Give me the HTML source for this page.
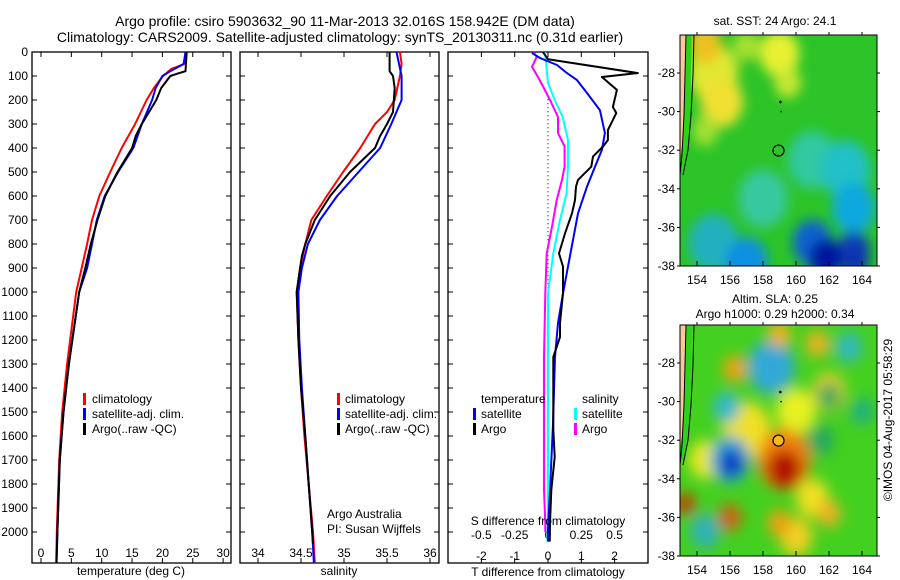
<!DOCTYPE html>
<html><head><meta charset="utf-8"><style>
html,body{margin:0;padding:0;background:#fff;}
svg{display:block;font-family:"Liberation Sans",sans-serif;}
text{font-size:12px;fill:#000;}
</style></head><body>
<svg id="fig" width="900" height="580" viewBox="0 0 900 580" xmlns="http://www.w3.org/2000/svg">
<defs>
<filter id="blurA" x="-50%" y="-50%" width="200%" height="200%"><feGaussianBlur stdDeviation="7"/></filter>
<filter id="blurB" x="-50%" y="-50%" width="200%" height="200%"><feGaussianBlur stdDeviation="6"/></filter>
<clipPath id="clipMap1"><rect x="680" y="35" width="197" height="231"/></clipPath>
<clipPath id="clipMap2"><rect x="680" y="325" width="197" height="231"/></clipPath>
</defs>
<text x="345" y="26" text-anchor="middle" style="font-size:14px">Argo profile: csiro 5903632_90 11-Mar-2013 32.016S 158.942E (DM data)</text>
<text x="340" y="42" text-anchor="middle" style="font-size:14px">Climatology: CARS2009. Satellite-adjusted climatology: synTS_20130311.nc (0.31d earlier)</text>
<g id="plots"></g>
</svg>
<script>
// ---------- profile data ----------
const tClimDepth=[0,50,70,100,150,200,300,400,500,600,700,800,900,1000,1300,1500,1700,2000,2130];
const tClimVal=[24.0,23.6,21.5,20.1,18.6,17.4,15.5,13.3,11.4,9.6,8.4,7.6,6.7,5.8,4.3,3.5,3.0,2.6,2.5];
const tSatDepth=[0,50,80,100,150,200,300,400,500,600,700,800,900,1000,1300,1500,1700,2000,2130];
const tSatVal=[23.8,23.5,21.3,20.0,18.9,18.3,16.6,15.2,12.7,10.5,9.2,8.4,7.6,6.3,4.6,3.7,3.1,2.7,2.55];
const tArgoDepth=[0,80,90,100,150,200,300,350,400,500,600,700,800,900,1000,1300,1500,1700,2000,2130];
const tArgoVal=[24.0,23.8,22.5,21.3,19.8,19.0,16.6,15.6,15.0,12.6,10.6,9.3,8.2,7.3,6.3,4.6,3.7,3.1,2.7,2.55];

const sClimDepth=[0,50,100,200,250,300,400,500,600,700,800,900,1000,1200,1400,1600,1800,2000,2130];
const sClimVal=[35.65,35.67,35.65,35.59,35.5,35.36,35.19,34.99,34.8,34.62,34.55,34.49,34.45,34.47,34.50,34.54,34.59,34.64,34.66];
const sSatDepth=[0,100,200,300,400,500,600,700,800,900,1000,1200,1400,1600,1800,2000,2130];
const sSatVal=[35.61,35.67,35.67,35.55,35.42,35.17,34.92,34.72,34.58,34.51,34.47,34.48,34.51,34.55,34.59,34.63,34.65];
const sArgoDepth=[0,80,100,150,250,300,350,400,500,600,700,800,850,900,1000,1200,1400,1600,1800,2000,2050];
const sArgoVal=[35.53,35.53,35.57,35.59,35.57,35.5,35.42,35.36,35.07,34.84,34.66,34.55,34.51,34.49,34.45,34.47,34.5,34.55,34.59,34.63,34.64];

const dTSatDepth=[4,25,54,88,117,171,242,338,408,478,561,672,783,894,1006,1129,1271,1550,1825,1992,2040];
const dTSatVal=[-0.48,-0.24,0.27,0.57,0.87,1.17,1.56,1.71,1.62,1.41,1.17,0.9,0.75,0.6,0.45,0.3,0.21,0.15,0.06,0.0,0.0];
const dTArgoDepth=[0,20,30,88,104,158,229,254,283,325,367,394,436,478,533,561,617,672,756,839,894,1006,1129,1188,1271,1408,1575,1629,1688,1825,1963,2040];
const dTArgoVal=[-0.15,-0.05,0.0,2.7,1.62,2.07,1.95,2.05,1.95,1.8,1.8,1.65,1.35,1.3,0.9,0.84,0.81,0.72,0.51,0.33,0.45,0.45,0.36,0.36,0.16,0.16,0.16,0.18,0.2,0.1,0.06,0.05];
const dSSatDepth=[0,40,129,200,271,367,478,589,700,839,1006,1300,1600,1900,2040];
const dSSatVal=[-0.025,-0.015,0.0,0.05,0.11,0.15,0.15,0.14,0.09,0.04,0.0,0.0,0.0,0.0,-0.005];
const dSArgoDepth=[0,20,62,104,146,200,271,338,394,478,533,617,728,839,1006,1271,1550,1825,1960,2000];
const dSArgoVal=[-0.11,-0.085,-0.12,-0.075,-0.035,0.015,0.075,0.075,0.125,0.125,0.105,0.065,0.03,-0.01,-0.02,-0.03,-0.03,-0.03,-0.02,-0.02];

const depthTicks=[0,100,200,300,400,500,600,700,800,900,1000,1100,1200,1300,1400,1500,1600,1700,1800,1900,2000];
const tTicks=[0,5,10,15,20,25,30];
const sTicks=[34,34.5,35,35.5,36];
const dTTicks=[-2,-1,0,1,2];
const dSTicks=[-0.5,-0.25,0,0.25,0.5];
const dSTickLabels=["-0.5","-0.25","0","0.25","0.5"];
const lonTicks=[154,156,158,160,162,164];
const latTicks=[-28,-30,-32,-34,-36,-38];

// map fields (blobs: lon, lat, radius deg, color)
const sstBase="#2cc428";
const sstBlobLon=[155,154.5,155.5,159,159.5,157,154.5,161,158,163,163.5,155,157,161,163.5,161.8,163.6];
const sstBlobLat=[-28,-26.5,-29.5,-27,-28.5,-26.6,-31,-32.5,-34.5,-33,-35,-36.8,-37.8,-36.8,-37.2,-37.6,-37.8];
const sstBlobR=[1.5,1.0,1.3,1.2,0.8,0.8,0.8,1.5,1.5,1.5,1.3,1.5,1.3,1.2,1.0,1.0,0.8];
const sstBlobC=["#e0e830","#f0c020","#f0e030","#e8f030","#c8e830","#a8e030","#a0e030","#30c8a0","#38c8a0","#20c0c8","#10a8e0","#20b0c0","#1090e0","#1060d0","#0840b8","#0018a0","#0830b0"];

const slaBase="#44d020";
const slaBlobLon=[157,160,162,154.5,161,160,159.3,156,158.5,155.8,163.2,164,162,154.5,161.5,156.3,159,161.3,159,162,156,153.3,159.3,156.1];
const slaBlobLat=[-31.5,-30.5,-29.5,-33,-35,-37,-33,-33,-28.2,-30.3,-27.2,-30.5,-29.7,-36.7,-32,-28.3,-26.5,-27,-36.3,-35.8,-36,-35.3,-33.5,-33.2];
const slaBlobR=[1.5,1.2,1.0,1.0,1.0,1.0,1.6,1.2,1.4,0.8,0.8,0.7,0.7,0.9,0.8,0.7,0.7,0.7,0.7,0.7,0.7,0.6,1.0,0.7];
const slaBlobC=["#f0e020","#e8f020","#f0d020","#e8e820","#f0e020","#f0d020","#f08010","#20a0d8","#30a8d8","#30b8d0","#30b8c0","#20b080","#20a860","#30b0b8","#20a860","#f0a010","#f0b020","#f0b020","#f0a010","#f0b020","#d06010","#c04000","#b01000","#1030c0"];

// ---------- helpers ----------
const NS="http://www.w3.org/2000/svg";
const root=document.getElementById('plots');
function mk(tag,attrs,parent){const e=document.createElementNS(NS,tag);for(const k in attrs)e.setAttribute(k,attrs[k]);(parent||root).appendChild(e);return e;}
const yD=d=>52+d*0.24;
const xT=v=>41+(v)*6.07;
const xS=v=>258+(v-34)*86;
const xDT=v=>548+v*33.3;
const xDS=v=>548+v*133.2;
const PB=563;

function frame(x0,x1,name){
  const r=mk('rect',{x:x0,y:52,width:x1-x0,height:PB-52,fill:'none',stroke:'#000','stroke-width':1.3});
  
  
  depthTicks.forEach(d=>{
    mk('line',{x1:x0,x2:x0+5,y1:yD(d),y2:yD(d),stroke:'#000'});
    mk('line',{x1:x1-5,x2:x1,y1:yD(d),y2:yD(d),stroke:'#000'});
  });
}
function xticks(vals,fx,labels,y,name){
  vals.forEach((v,i)=>{
    const x=fx(v);
    mk('line',{x1:x,x2:x,y1:PB,y2:PB-5,stroke:'#000'});
    mk('line',{x1:x,x2:x,y1:52,y2:57,stroke:'#000'});
    const t=mk('text',{x:x,y:y,'text-anchor':'middle'});
    t.textContent=labels?labels[i]:String(v);
    
    
  });
}
function series(ds,vs,fx,color,name,w){
  const p=ds.map((d,i)=>fx(vs[i]).toFixed(1)+','+yD(d).toFixed(1)).join(' ');
  const l=mk('polyline',{points:p,fill:'none',stroke:color,'stroke-width':w||2,'stroke-linejoin':'round'});
  
  
}
function label(x,y,s,name,anchor){
  const t=mk('text',{x:x,y:y,'text-anchor':anchor||'start'});
  t.textContent=s;
  
  
  return t;
}
function legBar(x,y,c,name){
  const r=mk('rect',{x:x,y:y-10,width:3,height:12,fill:c});
  
  
}

// depth labels
depthTicks.forEach(d=>{
  const t=mk('text',{x:28,y:yD(d)+4,'text-anchor':'end'});
  t.textContent=d;
  
  
});

// panel 1: temperature
frame(32,231,'temperature-panel');
xticks(tTicks,xT,null,557,'temperature-tick-label');
series(tClimDepth,tClimVal,xT,'#f00','temperature-climatology-line');
series(tSatDepth,tSatVal,xT,'#00f','temperature-satellite-line');
series(tArgoDepth,tArgoVal,xT,'#000','temperature-argo-line');
label(131,575,'temperature (deg C)','temperature-axis-title','middle');
legBar(83,403,'#f00','legend-climatology-swatch');label(92,403,'climatology','legend-climatology');
legBar(83,418,'#00f','legend-satellite-swatch');label(92,418,'satellite-adj. clim.','legend-satellite');
legBar(83,433,'#000','legend-argo-swatch');label(92,433,'Argo(..raw -QC)','legend-argo');

// panel 2: salinity
frame(240,439,'salinity-panel');
xticks(sTicks,xS,null,557,'salinity-tick-label');
series(sClimDepth,sClimVal,xS,'#f00','salinity-climatology-line');
series(sSatDepth,sSatVal,xS,'#00f','salinity-satellite-line');
series(sArgoDepth,sArgoVal,xS,'#000','salinity-argo-line');
label(339,575,'salinity','salinity-axis-title','middle');
legBar(337,403,'#f00','legend-climatology-swatch-2');label(345,403,'climatology','legend-climatology-2');
legBar(337,418,'#00f','legend-satellite-swatch-2');label(345,418,'satellite-adj. clim.','legend-satellite-2');
legBar(337,433,'#000','legend-argo-swatch-2');label(345,433,'Argo(..raw -QC)','legend-argo-2');
label(327,518,'Argo Australia','credit-argo-australia');
label(327,533,'PI: Susan Wijffels','credit-pi');

// panel 3: differences
frame(448,648,'difference-panel');
xticks(dTTicks,xDT,null,560,'t-difference-tick-label');
dSTicks.forEach((v,i)=>{
  const t=mk('text',{x:xDS(v),y:539,'text-anchor':'middle'});
  t.textContent=dSTickLabels[i];
  
  
});
mk('line',{x1:548,x2:548,y1:yD(180),y2:yD(1100),stroke:'#000','stroke-dasharray':'1,3'});
series(dSArgoDepth,dSArgoVal,xDS,'#f0f','s-diff-argo-line');
series(dSSatDepth,dSSatVal,xDS,'#0ff','s-diff-satellite-line');
series(dTSatDepth,dTSatVal,xDT,'#00f','t-diff-satellite-line');
series(dTArgoDepth,dTArgoVal,xDT,'#000','t-diff-argo-line');
label(548,525,'S difference from climatology','s-difference-title','middle');
label(548,576,'T difference from climatology','t-difference-title','middle');
label(481,403,'temperature','legend-temperature-heading');
legBar(473,418,'#00f','legend-t-satellite-swatch');label(481,418,'satellite','legend-t-satellite');
legBar(473,433,'#000','legend-t-argo-swatch');label(481,433,'Argo','legend-t-argo');
label(582,403,'salinity','legend-salinity-heading');
legBar(574,418,'#0ff','legend-s-satellite-swatch');label(582,418,'satellite','legend-s-satellite');
legBar(574,433,'#f0f','legend-s-argo-swatch');label(582,433,'Argo','legend-s-argo');

// ---------- maps ----------
function drawMap(top,clip,base,bl,ba,br,bc,filt,name,circleFill){
  const lonX=lo=>697+(lo-154)*16.5;
  const latY=la=>top+38+(-28-la)*19.3;
  const g=mk('g',{'clip-path':'url(#'+clip+')'});
  
  
  mk('rect',{x:680,y:top,width:197,height:231,fill:base},g);
  const gb=mk('g',{filter:'url(#'+filt+')'},g);
  bl.forEach((lo,i)=>{
    const e=mk('ellipse',{cx:lonX(lo),cy:latY(ba[i]),rx:br[i]*16.5,ry:br[i]*19.3,fill:bc[i]},gb);
    
    
  });
  const land=mk('path',{d:`M680 ${top} L686 ${top} L685 ${top+40} L684 ${top+80} L682 ${top+120} L680 ${top+140} Z`,fill:'#f8c89c'},g);
  
  
  mk('path',{d:`M689 ${top} L688 ${top+60} L686 ${top+100} L681 ${top+135}`,fill:'none',stroke:'#2ad21a','stroke-width':5},g);
  mk('path',{d:`M686 ${top} L685 ${top+40} L684 ${top+80} L682 ${top+120} L680 ${top+140}`,fill:'none',stroke:'#000','stroke-width':1},g);
  mk('path',{d:`M694 ${top} L693 ${top+40} L691 ${top+80} L688 ${top+115} L683 ${top+140}`,fill:'none',stroke:'#000','stroke-width':1},g);
  mk('circle',{cx:lonX(159.05),cy:latY(-29.5),r:1.3,fill:'#000'},g);
  mk('circle',{cx:lonX(159.1),cy:latY(-30),r:0.8,fill:'#000'},g);
  const c=mk('circle',{cx:lonX(158.94),cy:latY(-32.02),r:5.5,fill:circleFill,stroke:'#000','stroke-width':1.2},g);
  
  
  mk('rect',{x:680,y:top,width:197,height:231,fill:'none',stroke:'#000'});
  lonTicks.forEach(lo=>{
    const x=lonX(lo);
    mk('line',{x1:x,x2:x,y1:top+231,y2:top+226,stroke:'#000'});
    mk('line',{x1:x,x2:x,y1:top,y2:top-3,stroke:'#000'});
    const t=mk('text',{x:x,y:top+249,'text-anchor':'middle'});
    t.textContent=lo;
    
    
  });
  latTicks.forEach(la=>{
    const y=latY(la);
    mk('line',{x1:677,x2:680,y1:y,y2:y,stroke:'#000'});
    mk('line',{x1:877,x2:880,y1:y,y2:y,stroke:'#000'});
    const t=mk('text',{x:675,y:y+4,'text-anchor':'end'});
    t.textContent=la;
    
    
  });
}
drawMap(35,'clipMap1',sstBase,sstBlobLon,sstBlobLat,sstBlobR,sstBlobC,'blurB','sst-map','none');
drawMap(325,'clipMap2',slaBase,slaBlobLon,slaBlobLat,slaBlobR,slaBlobC,'blurA','sla-map','#f8b820');
label(775,25,'sat. SST: 24  Argo: 24.1','sst-map-title','middle');
label(775,303,'Altim. SLA: 0.25','sla-map-title-1','middle');
label(775,318,'Argo h1000: 0.29 h2000: 0.34','sla-map-title-2','middle');
const cr=label(0,0,'©IMOS 04-Aug-2017 05:58:29','copyright-timestamp','middle');
cr.setAttribute('transform','translate(892,420) rotate(-90)');
</script>
</body></html>
